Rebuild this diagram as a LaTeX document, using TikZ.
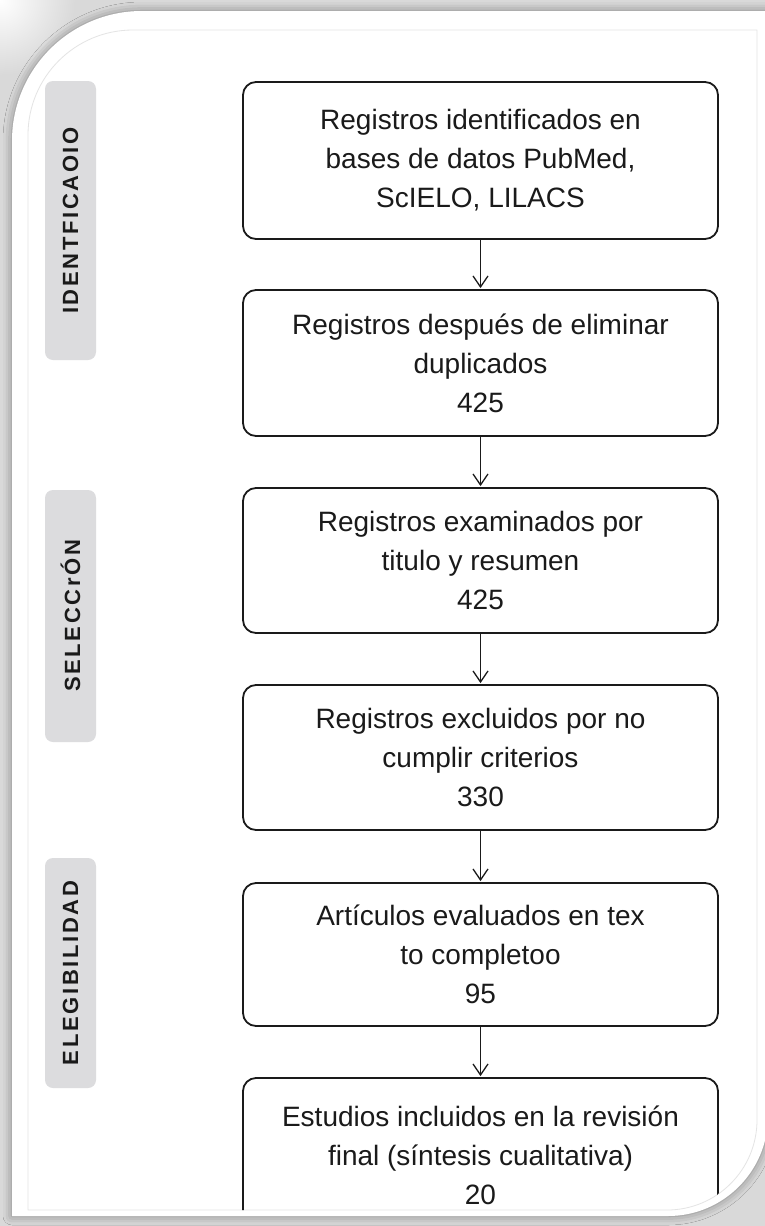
\documentclass[tikz,border=0pt]{standalone}
\usepackage{fontspec}
\setmainfont{Liberation Sans}
\usetikzlibrary{arrows.meta}
\usetikzlibrary{shadows.blur}
\definecolor{bggrey}{HTML}{D9D9D9}
\definecolor{bargrey}{HTML}{DCDCDE}
\definecolor{edgegrey}{HTML}{E4E4E4}
\definecolor{ink}{HTML}{1A1A1A}

\begin{document}
\begin{tikzpicture}[line cap=round,line join=round,>={Straight Barb[length=11pt,width=15pt]},x=1pt,y=-1pt,
  flowbox/.style={draw=ink,line width=1.8pt,rounded corners=13pt,minimum width=475pt,inner sep=0pt,
    align=center,text=ink,font=\fontsize{28}{39}\selectfont},
  stagebar/.style={fill=bargrey,rounded corners=8pt,minimum height=51pt,inner sep=0pt,rotate=90,
    text=ink,font=\fontsize{22}{22}\selectfont\bfseries\addfontfeature{LetterSpace=12}},
  flowarrow/.style={->,draw=ink,line width=1.3pt,shorten >=1pt}]
\useasboundingbox (0,0) rectangle (765,1226);
%
\fill[bggrey] (0,0) rectangle (765,1226);
\shade[inner color=white,outer color=bggrey] (0,0) circle (75);
\fill[white,blur shadow={shadow xshift=0pt,shadow yshift=0pt,shadow blur radius=9pt,shadow opacity=40}]
  (12,1216) -- (12,141) arc (180:270:130) -- (768,11) -- (768,1116) arc (0:90:100) -- cycle;
\draw[edgegrey,line width=0.8pt,fill=white]
  (28,1210) -- (28,135) arc (180:270:105) -- (757,30) -- (757,1120) arc (0:90:90) -- cycle;
%
% stage labels
\node[stagebar,minimum width=279pt] (lblid) at (70.5,220.5) {IDENTFICAOIO};
\node[stagebar,minimum width=252pt] (lblsel) at (70.5,616) {SELECCrÓN};
\node[stagebar,minimum width=230pt] (lblele) at (70.5,973) {ELEGIBILIDAD};
%
% flow boxes
\node[flowbox,minimum height=157pt] (idf) at (480.5,160.5) {Registros identificados en\\bases de datos PubMed,\\ScIELO, LILACS};
\node[flowbox,minimum height=146pt] (dup) at (480.5,363) {Registros después de eliminar\\duplicados\\425};
\node[flowbox,minimum height=145pt] (exa) at (480.5,560.5) {Registros examinados por\\titulo y resumen\\425};
\node[flowbox,minimum height=145pt] (exc) at (480.5,757.5) {Registros excluidos por no\\cumplir criterios\\330};
\node[flowbox,minimum height=143pt] (txt) at (480.5,954.5) {Artículos evaluados en tex\\to completoo\\95};
\begin{scope}
\clip (28,1210) -- (28,135) arc (180:270:105) -- (757,30) -- (757,1120) arc (0:90:90) -- cycle;
\node[flowbox,minimum height=154pt] (inc) at (480.5,1155) {Estudios incluidos en la revisión\\final (síntesis cualitativa)\\20};
\end{scope}
%
\draw[flowarrow] (idf) -- (dup);
\draw[flowarrow] (dup) -- (exa);
\draw[flowarrow] (exa) -- (exc);
\draw[flowarrow] (exc) -- (txt);
\draw[flowarrow] (txt) -- (inc);
\end{tikzpicture}
\end{document}
